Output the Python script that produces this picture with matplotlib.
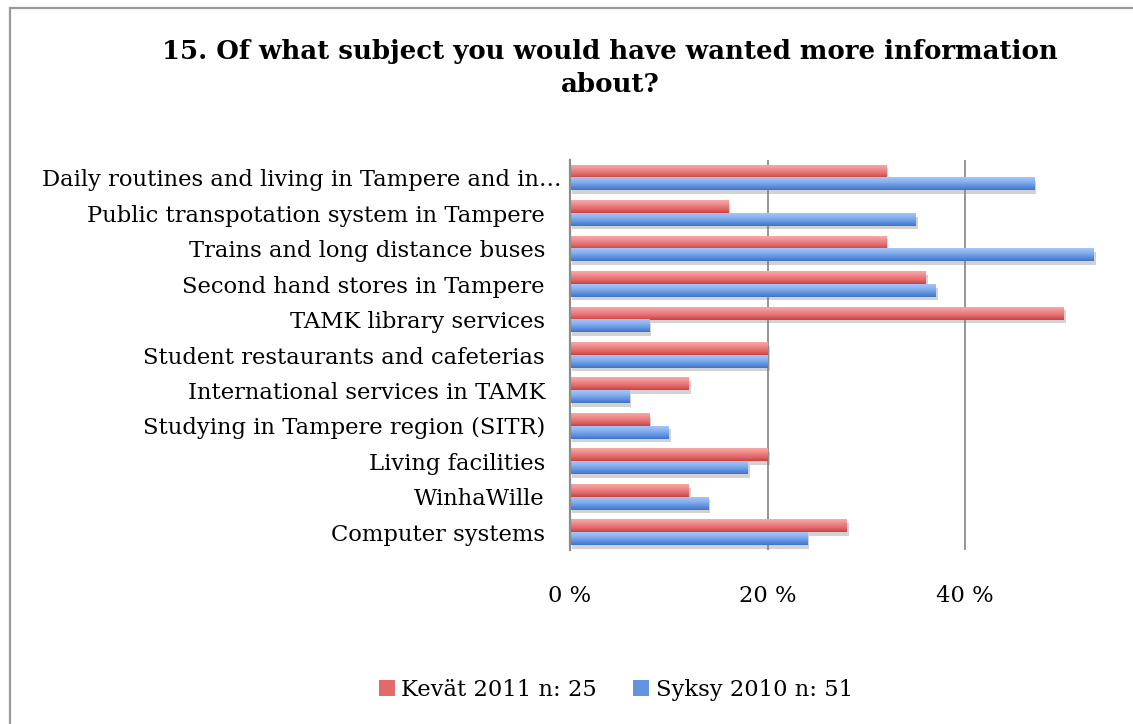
import numpy as np
import matplotlib
matplotlib.use('Agg')
import matplotlib.pyplot as plt
import matplotlib.patheffects as pe
from matplotlib.colors import LinearSegmentedColormap
from matplotlib.patches import Rectangle, Patch
from matplotlib.ticker import FuncFormatter
from matplotlib.transforms import ScaledTranslation

# ---------------------------------------------------------------------------
# Data
# ---------------------------------------------------------------------------
categories = [
    'Daily routines and living in Tampere and in\u2026',
    'Public transpotation system in Tampere',
    'Trains and long distance buses',
    'Second hand stores in Tampere',
    'TAMK library services',
    'Student restaurants and cafeterias',
    'International services in TAMK',
    'Studying in Tampere region (SITR)',
    'Living facilities',
    'WinhaWille',
    'Computer systems',
]
kevat_2011 = [32, 16, 32, 36, 50, 20, 12, 8, 20, 12, 28]
syksy_2010 = [47, 35, 53, 37, 8, 20, 6, 10, 18, 14, 24]
series_names = ['Kev\u00e4t 2011 n: 25', 'Syksy 2010 n: 51']
x_ticks = [0, 20, 40]
grid_lines = [20, 40, 60]

TITLE = '15. Of what subject you would have wanted more information\nabout?'

W, H = 1133, 724
FONT = 'DejaVu Serif'
FS = 16.3
GRID = '#8c8c8c'

red_cmap = LinearSegmentedColormap.from_list(
    'red_grad', ['#f8a8a8', '#f08a8a', '#e26a6a', '#cc4040'])
blue_cmap = LinearSegmentedColormap.from_list(
    'blue_grad', ['#a4c6f8', '#8ab2f0', '#6494e0', '#3e76c8'])


def gradient_bars(ax, bars, cmap):
    """Paints a vertical gradient over every bar of a barh container."""
    grad = np.linspace(0, 1, 64).reshape(-1, 1)
    for p in bars:
        x0, y0 = p.get_x(), p.get_y()
        w, h = p.get_width(), p.get_height()
        if w <= 0:
            continue
        # row 0 (light) goes to the visually upper edge (smaller y, inverted axis)
        ax.imshow(grad, cmap=cmap, aspect='auto', origin='upper',
                  extent=(x0, x0 + w, y0 + h, y0), zorder=3,
                  interpolation='bilinear')


fig = plt.figure(figsize=(W / 100, H / 100), dpi=100)
plt.rcParams['font.family'] = [FONT, 'DejaVu Sans']

# plot area: left edge at x=570, 20 % per ~197.6 px, runs off the right edge
left_px, top_px, bot_px = 570, 160, 550
px_per_pct = 197.6 / 20
ax = fig.add_axes([left_px / W, (H - bot_px) / H,
                   px_per_pct * 60 / W, (bot_px - top_px) / H])

y = np.arange(len(categories))
bh = 0.36
shadow = [pe.SimplePatchShadow(offset=(1.5, -2.5), shadow_rgbFace='#808080', alpha=0.35),
          pe.Normal()]
b_red = ax.barh(y - bh / 2, kevat_2011, height=bh, color='#e26a6a', zorder=2)
b_blue = ax.barh(y + bh / 2, syksy_2010, height=bh, color='#6494e0', zorder=2)
for p in list(b_red) + list(b_blue):
    p.set_path_effects(shadow)
gradient_bars(ax, b_red, red_cmap)
gradient_bars(ax, b_blue, blue_cmap)

ax.set_xlim(0, 60)
ax.set_ylim(len(categories) - 0.5, -0.5)
ax.set_xticks(x_ticks)
ax.xaxis.set_major_formatter(FuncFormatter(lambda v, _: f'{v:.0f} %'))
ax.set_yticks(y)
ax.set_yticklabels(categories)
ax.tick_params(axis='x', length=0, pad=25, labelsize=FS)
ax.tick_params(axis='y', length=0, pad=18, labelsize=FS)
for g in grid_lines:
    ax.axvline(g, color=GRID, linewidth=1.3, zorder=1)
for side in ('top', 'right', 'bottom'):
    ax.spines[side].set_visible(False)
ax.spines['left'].set_color(GRID)
ax.spines['left'].set_linewidth(1.6)
ax.spines['left'].set_zorder(4)

# the truncated first label overflows past the others, like in the original
first = ax.get_yticklabels()[0]
first.set_transform(first.get_transform() + ScaledTranslation(0.17, 0, fig.dpi_scale_trans))

# title, centred on the (cropped) chart area
fig.text(610 / W, 1 - 68 / H, TITLE, ha='center', va='center',
         fontsize=18.7, fontweight='bold', linespacing=1.4)

# legend at the bottom
handles = [Patch(facecolor='#e26a6a', edgecolor='none'),
           Patch(facecolor='#6494e0', edgecolor='none')]
fig.legend(handles, series_names, loc='center', bbox_to_anchor=(616 / W, 1 - 690 / H),
           ncol=2, frameon=False, fontsize=FS, handlelength=0.7, handleheight=0.7,
           handletextpad=0.3, columnspacing=1.6)

# outer chart border (only left and top are inside the picture)
fig.add_artist(Rectangle((10 / W, -0.1), 1.2, 1.1 - 8 / H, transform=fig.transFigure,
                         fill=False, edgecolor='#9a9a9a', linewidth=1.6))

fig.savefig('out.png', dpi=100)
